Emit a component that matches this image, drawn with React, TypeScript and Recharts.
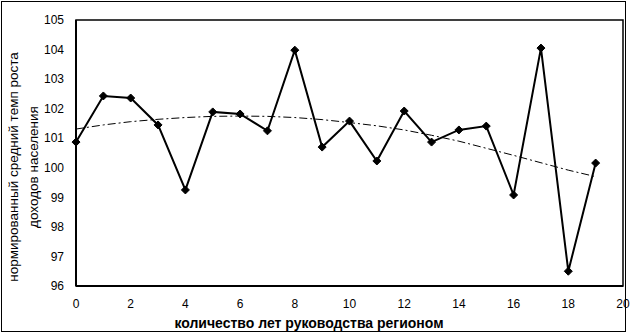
import React from "react";
import {
  LineChart,
  Line,
  XAxis,
  YAxis,
  ReferenceArea,
} from "recharts";

// years in office
const years = [0, 1, 2, 3, 4, 5, 6, 7, 8, 9, 10, 11, 12, 13, 14, 15, 16, 17, 18, 19];
// normalized average income growth rate
const growth = [
  100.87, 102.43, 102.36, 101.45, 99.25, 101.89, 101.82, 101.25, 103.98, 100.7,
  101.58, 100.23, 101.92, 100.87, 101.28, 101.41, 99.08, 104.05, 96.5, 100.16,
];
// polynomial trend
const trend = [
  101.31, 101.45, 101.56, 101.64, 101.7, 101.74, 101.75, 101.74, 101.7, 101.63,
  101.53, 101.42, 101.28, 101.1, 100.9, 100.66, 100.42, 100.17, 99.92, 99.7,
];
const xTicks = [0, 2, 4, 6, 8, 10, 12, 14, 16, 18, 20];
const yTicks = [96, 97, 98, 99, 100, 101, 102, 103, 104, 105];

const data = years.map((x, i) => ({ x, growth: growth[i], trend: trend[i] }));

if (typeof document !== "undefined") document.body.style.margin = "0";

const FONT = "'Liberation Sans', Arial, sans-serif";
const tickStyle = { fontSize: 12, fontFamily: FONT, fill: "#000" };

function Diamond(props: any) {
  const { cx, cy } = props;
  if (cx == null || cy == null) return null;
  const r = 4;
  return (
    <polygon
      points={`${cx},${cy - r} ${cx + r},${cy} ${cx},${cy + r} ${cx - r},${cy}`}
      fill="#000"
      stroke="#000"
    />
  );
}

function YLabel(props: any) {
  const vb = props.viewBox || {};
  const cy = (vb.y ?? 20) + (vb.height ?? 266) / 2 + 14;
  const style = { fontSize: 13.5, fontFamily: FONT, fill: "#000" };
  return (
    <g>
      <text
        x={13}
        y={cy}
        transform={`rotate(-90, 13, ${cy})`}
        textAnchor="middle"
        dominantBaseline="central"
        style={style}
      >
        нормированный средний темп роста
      </text>
      <text
        x={33}
        y={cy}
        transform={`rotate(-90, 33, ${cy})`}
        textAnchor="middle"
        dominantBaseline="central"
        style={style}
      >
        доходов населения
      </text>
    </g>
  );
}

function XLabel() {
  return (
    <text
      x={309}
      y={323}
      textAnchor="middle"
      dominantBaseline="central"
      style={{ fontSize: 14, fontWeight: "bold", fontFamily: FONT, fill: "#000" }}
    >
      количество лет руководства регионом
    </text>
  );
}

export default function App() {
  return (
    <div style={{ position: "relative", width: 631, height: 333, background: "#fff" }}>
      <div
        style={{
          position: "absolute",
          left: 1,
          top: 1,
          width: 625,
          height: 331,
          border: "1px solid #000",
          boxSizing: "border-box",
          pointerEvents: "none",
        }}
      />
      <LineChart
        width={631}
        height={333}
        data={data}
        margin={{ top: 20, right: 8, left: 16, bottom: 17 }}
      >
        <ReferenceArea
          x1={0}
          x2={20}
          y1={96}
          y2={105}
          fill="none"
          stroke="#000"
          strokeWidth={1.5}
          ifOverflow="visible"
        />
        <XAxis
          dataKey="x"
          type="number"
          domain={[0, 20]}
          ticks={xTicks}
          interval={0}
          height={30}
          tickLine={false}
          tickMargin={7}
          axisLine={{ stroke: "#000", strokeWidth: 2 }}
          tick={tickStyle}
          label={<XLabel />}
        />
        <YAxis
          type="number"
          domain={[96, 105]}
          ticks={yTicks}
          interval={0}
          width={60}
          tickLine={false}
          tickMargin={6}
          axisLine={{ stroke: "#000", strokeWidth: 2 }}
          tick={tickStyle}
          label={<YLabel />}
        />
        <Line
          dataKey="trend"
          type="linear"
          stroke="#000"
          strokeWidth={1}
          strokeDasharray="8 3 2 3"
          dot={false}
          activeDot={false}
          isAnimationActive={false}
        />
        <Line
          dataKey="growth"
          type="linear"
          stroke="#000"
          strokeWidth={2}
          dot={<Diamond />}
          activeDot={false}
          isAnimationActive={false}
        />
      </LineChart>
    </div>
  );
}
